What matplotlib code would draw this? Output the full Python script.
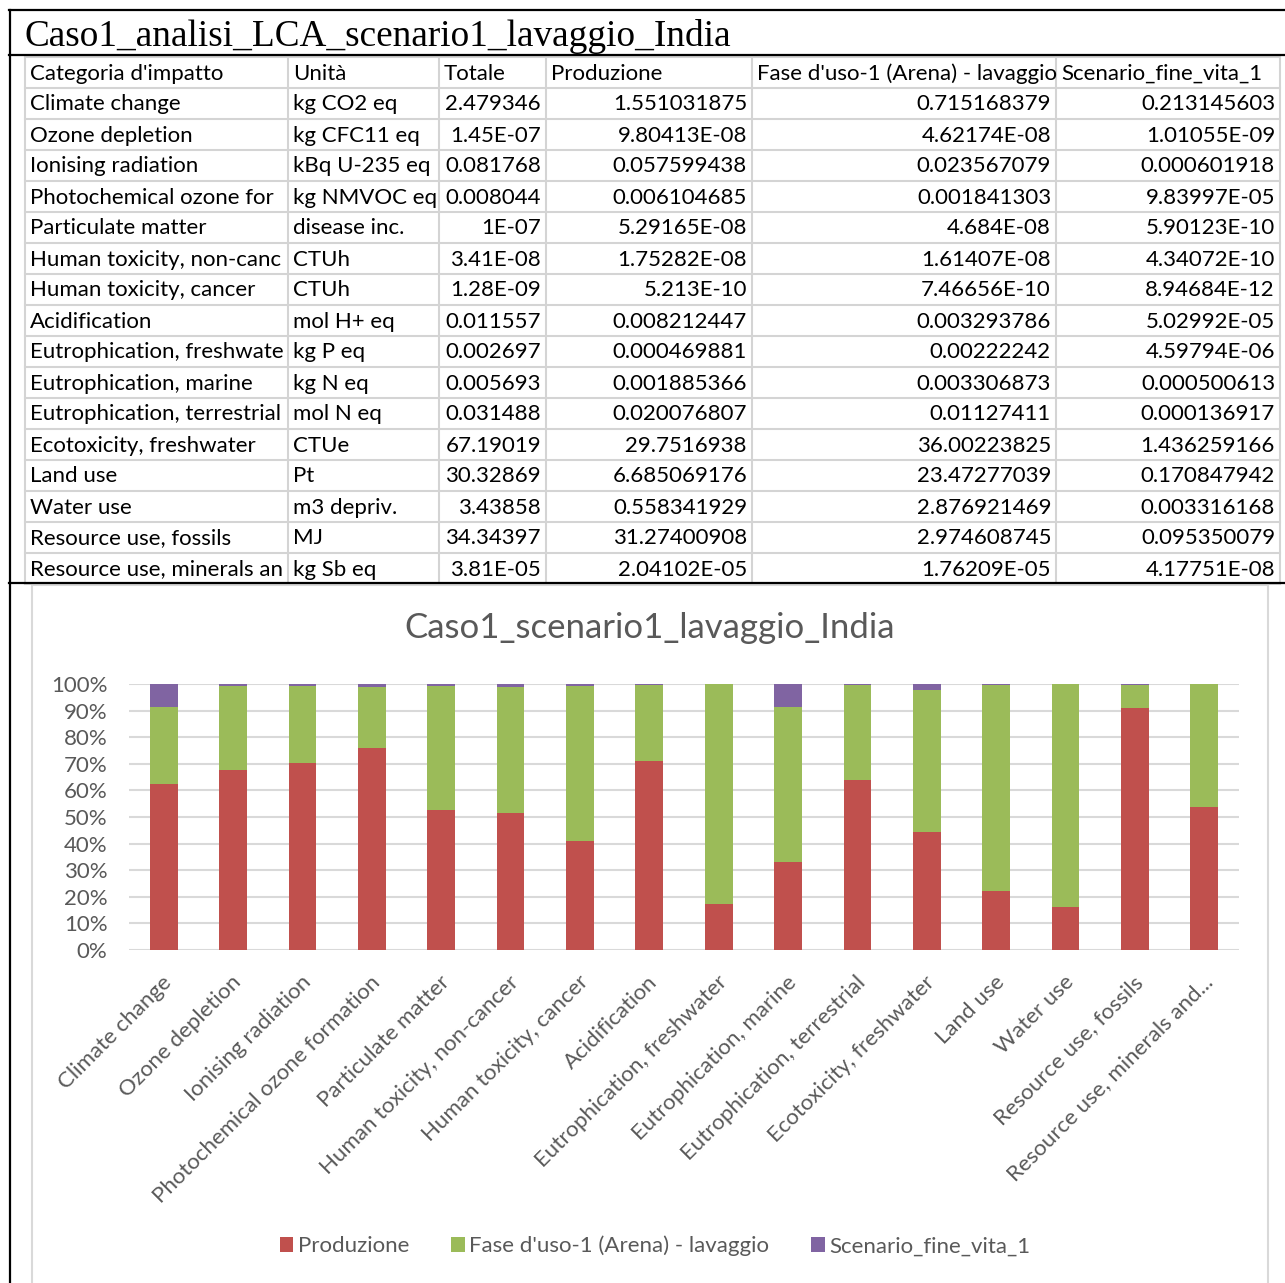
import matplotlib
matplotlib.use("Agg")
import matplotlib.pyplot as plt
from matplotlib.patches import Rectangle
from matplotlib.transforms import ScaledTranslation
import numpy as np

# table data, as shown in the sheet
header = ["Categoria d'impatto", "Unità", "Totale", "Produzione",
          "Fase d'uso-1 (Arena) - lavaggio", "Scenario_fine_vita_1"]

categories = ["Climate change", "Ozone depletion", "Ionising radiation",
              "Photochemical ozone formation", "Particulate matter",
              "Human toxicity, non-cancer", "Human toxicity, cancer",
              "Acidification", "Eutrophication, freshwater",
              "Eutrophication, marine", "Eutrophication, terrestrial",
              "Ecotoxicity, freshwater", "Land use", "Water use",
              "Resource use, fossils", "Resource use, minerals and metals"]

units = ["kg CO2 eq", "kg CFC11 eq", "kBq U-235 eq", "kg NMVOC eq",
         "disease inc.", "CTUh", "CTUh", "mol H+ eq", "kg P eq", "kg N eq",
         "mol N eq", "CTUe", "Pt", "m3 depriv.", "MJ", "kg Sb eq"]

totale = ["2.479346", "1.45E-07", "0.081768", "0.008044", "1E-07",
          "3.41E-08", "1.28E-09", "0.011557", "0.002697", "0.005693",
          "0.031488", "67.19019", "30.32869", "3.43858", "34.34397",
          "3.81E-05"]

produzione = ["1.551031875", "9.80413E-08", "0.057599438", "0.006104685",
              "5.29165E-08", "1.75282E-08", "5.213E-10", "0.008212447",
              "0.000469881", "0.001885366", "0.020076807", "29.7516938",
              "6.685069176", "0.558341929", "31.27400908", "2.04102E-05"]

fase_uso = ["0.715168379", "4.62174E-08", "0.023567079", "0.001841303",
            "4.684E-08", "1.61407E-08", "7.46656E-10", "0.003293786",
            "0.00222242", "0.003306873", "0.01127411", "36.00223825",
            "23.47277039", "2.876921469", "2.974608745", "1.76209E-05"]

fine_vita = ["0.213145603", "1.01055E-09", "0.000601918", "9.83997E-05",
             "5.90123E-10", "4.34072E-10", "8.94684E-12", "5.02992E-05",
             "4.59794E-06", "0.000500613", "0.000136917", "1.436259166",
             "0.170847942", "0.003316168", "0.095350079", "4.17751E-08"]

series_names = ["Produzione", "Fase d'uso-1 (Arena) - lavaggio", "Scenario_fine_vita_1"]
colors = ["#C0504D", "#9BBB59", "#8064A2"]

W, H = 1285, 1283
fig = plt.figure(figsize=(W / 100, H / 100), dpi=100)
renderer = fig.canvas.get_renderer()

# overlay in pixel coords for the sheet part
ov = fig.add_axes([0, 0, 1, 1])
ov.set_xlim(0, W)
ov.set_ylim(H, 0)
ov.axis("off")

cell_font = "Lato"
fs = 16
grid_c = "#d4d4d4"

col_x = [25, 288, 439, 546, 752, 1056, 1280]
row_top = 57
row_h = 31
n_rows = len(categories) + 1

# grid
for i in range(n_rows + 1):
    y = row_top + i * row_h
    ov.plot([col_x[0], col_x[-1]], [y, y], color=grid_c, lw=1.5, zorder=1)
for x in col_x:
    ov.plot([x, x], [row_top, row_top + n_rows * row_h], color=grid_c, lw=1.5, zorder=1)

# header
for j, txt in enumerate(header):
    ov.text(col_x[j] + 5, row_top + row_h / 2 + 1, txt, fontsize=fs,
            family=cell_font, va="center", ha="left")


def fit_cell(t, width):
    # cut text that runs into the next (filled) cell, like the sheet does
    s = t.get_text()
    while s and t.get_window_extent(renderer).width > width:
        s = s[:-1]
        t.set_text(s)


# body
for i in range(len(categories)):
    yc = row_top + (i + 1) * row_h + row_h / 2 + 1
    left_cells = [categories[i], units[i]]
    for j, txt in enumerate(left_cells):
        t = ov.text(col_x[j] + 5, yc, txt, fontsize=fs, family=cell_font,
                    va="center", ha="left")
        fit_cell(t, col_x[j + 1] - col_x[j] - 6)
    nums = [totale[i], produzione[i], fase_uso[i], fine_vita[i]]
    for j, txt in enumerate(nums):
        ov.text(col_x[j + 3] - 5, yc, txt, fontsize=fs, family=cell_font,
                va="center", ha="right")

# title row and black frame
ov.text(25, 46, "Caso1_analisi_LCA_scenario1_lavaggio_India", fontsize=26.8,
        family="Liberation Serif", va="baseline", ha="left")
for y in [10, 55, 583]:
    ov.plot([9, W], [y, y], color="black", lw=1.6, zorder=3)
ov.plot([10, 10], [10, H], color="black", lw=1.6, zorder=3)

# chart area border
ov.add_patch(Rectangle((32, 585), 1268 - 32, 720, fill=False,
                       edgecolor="#d9d9d9", lw=1.5, zorder=2))
ov.text(650, 628, "Caso1_scenario1_lavaggio_India", fontsize=25,
        family=cell_font, color="#595959", ha="center", va="center")

# bars: 100% stacked
prod = np.array([float(v) for v in produzione])
uso = np.array([float(v) for v in fase_uso])
eol = np.array([float(v) for v in fine_vita])
tot = prod + uso + eol
shares = [prod / tot, uso / tot, eol / tot]

ax_l, ax_r, ax_t, ax_b = 129, 1239, 684, 950
ax = fig.add_axes([ax_l / W, (H - ax_b) / H, (ax_r - ax_l) / W, (ax_b - ax_t) / H])
ax.set_facecolor("none")
x = np.arange(len(categories))
bottom = np.zeros(len(categories))
for s, name, c in zip(shares, series_names, colors):
    ax.bar(x, s, width=0.4, bottom=bottom, color=c, label=name, zorder=3, linewidth=0)
    bottom += s

ax.set_xlim(-0.5, len(categories) - 0.5)
ax.set_ylim(0, 1)
ax.set_yticks(np.linspace(0, 1, 11))
ax.set_yticklabels([f"{int(round(v * 100))}%" for v in np.linspace(0, 1, 11)],
                   fontsize=fs, family=cell_font, color="#595959")
ax.tick_params(axis="y", length=0, pad=15.5)
ax.yaxis.grid(True, color="#d9d9d9", lw=1.5, zorder=0)
ax.set_axisbelow(True)
for sp in ax.spines.values():
    sp.set_visible(False)
ax.set_xticks([])


def short(lbl):
    return lbl[:26] + "..." if len(lbl) > 30 else lbl


off = ScaledTranslation(5 / 100, -29 / 100, fig.dpi_scale_trans)
for i, lbl in enumerate(categories):
    ax.text(i, 0, short(lbl), transform=ax.get_xaxis_transform() + off,
            rotation=45, rotation_mode="anchor", ha="right", va="center",
            fontsize=fs, family=cell_font, color="#595959")

leg = ax.legend(loc="center", bbox_to_anchor=(655 / W, (H - 1246) / H),
                bbox_transform=fig.transFigure, ncol=3, frameon=False,
                handlelength=0.6, handleheight=0.6, handletextpad=0.2,
                columnspacing=1.9, prop={"family": cell_font, "size": fs})
for t in leg.get_texts():
    t.set_color("#595959")

fig.savefig("out.png", dpi=100)
